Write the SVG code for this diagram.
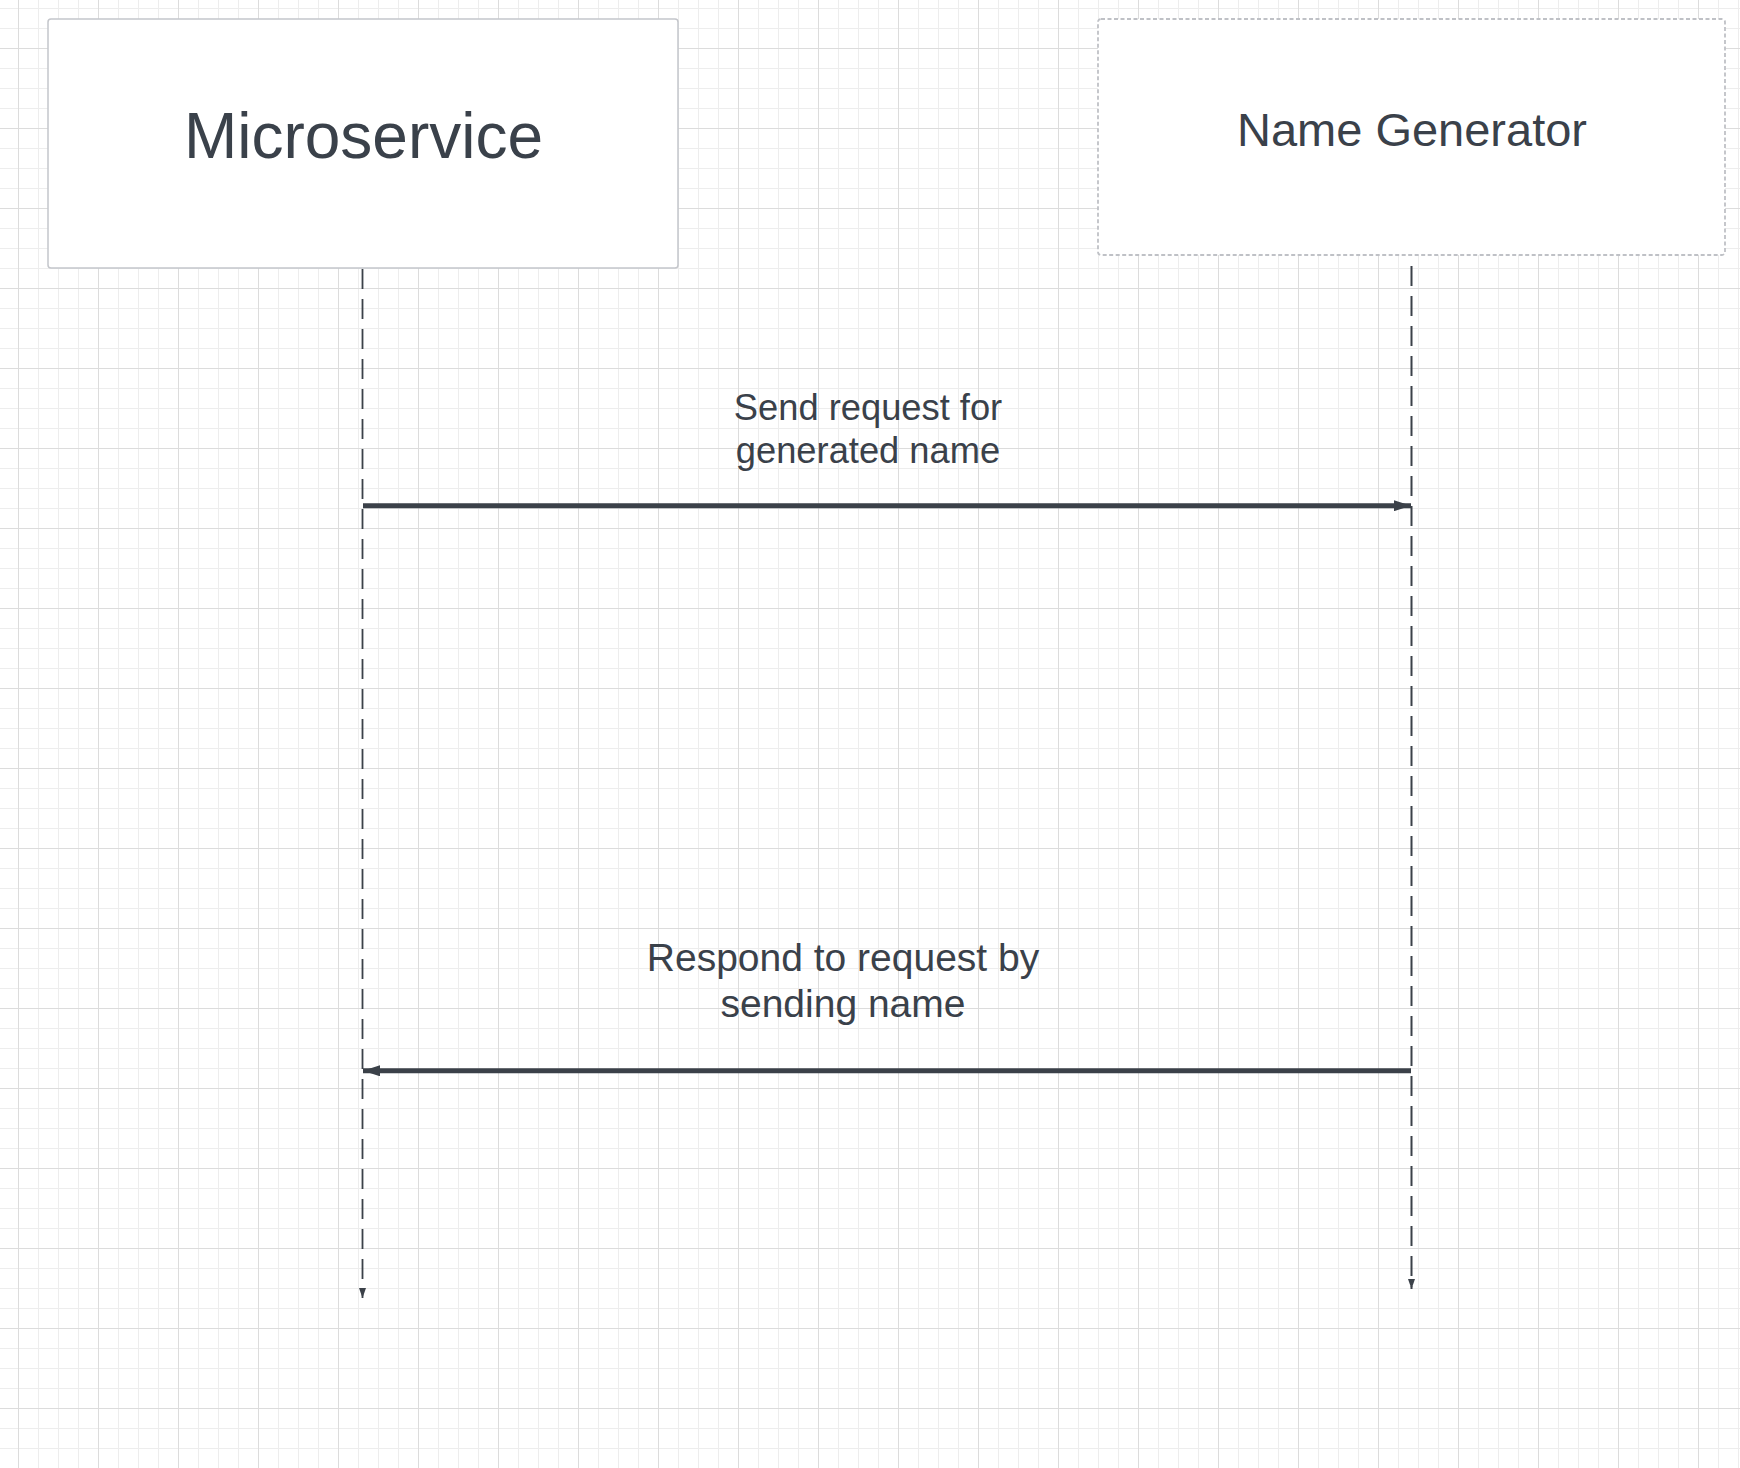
<svg xmlns="http://www.w3.org/2000/svg" width="1740" height="1468" viewBox="0 0 1740 1468">
  <style>
    .node-box { fill: #ffffff; stroke: #c4c6cb; stroke-width: 1.5; }
    .dashed { stroke: #bfc1c6; stroke-width: 1.8; stroke-dasharray: 4 2.5; }
    .label { font-family: "Liberation Sans", Arial, sans-serif; fill: #3a414a; text-anchor: middle; }
    .lifeline { fill: none; stroke: #3b4149; stroke-dasharray: 20 10; }
    .msg { fill: none; stroke: #3b4149; stroke-width: 5; }
  </style>
  <defs>
    <pattern id="grid" patternUnits="userSpaceOnUse" x="18" y="48" width="80" height="80">
      <rect x="20" y="0" width="1" height="80" fill="#ededed"/>
      <rect x="40" y="0" width="1" height="80" fill="#ededed"/>
      <rect x="60" y="0" width="1" height="80" fill="#ededed"/>
      <rect x="0" y="20" width="80" height="1" fill="#ededed"/>
      <rect x="0" y="40" width="80" height="1" fill="#ededed"/>
      <rect x="0" y="60" width="80" height="1" fill="#ededed"/>
      <rect x="0" y="0" width="1" height="80" fill="#dcdcdc"/>
      <rect x="0" y="0" width="80" height="1" fill="#dcdcdc"/>
    </pattern>
    <marker id="msgHead" viewBox="0 0 17 11" refX="17" refY="5.5" markerWidth="17" markerHeight="11" markerUnits="userSpaceOnUse" orient="auto">
      <path d="M0,0 L17,5.5 L0,11 Z" fill="#3b4149"/>
    </marker>
    <marker id="lifeHead" viewBox="0 0 10 7" refX="10" refY="3.5" markerWidth="10" markerHeight="7" markerUnits="userSpaceOnUse" orient="auto">
      <path d="M0,0 L10,3.5 L0,7 Z" fill="#3b4149"/>
    </marker>
  </defs>

  <rect x="0" y="0" width="1740" height="1468" fill="#ffffff"/>
  <rect x="0" y="0" width="1740" height="1468" fill="url(#grid)"/>

  <g id="connectors">
    <line class="lifeline" x1="362.5" y1="269" x2="362.5" y2="1298" stroke-width="1.8" marker-end="url(#lifeHead)"/>
    <line class="lifeline" x1="1411.5" y1="256" x2="1411.5" y2="1289" stroke-width="2" stroke-dashoffset="-10" marker-end="url(#lifeHead)"/>
    <line class="msg" x1="363" y1="505.7" x2="1411" y2="505.7" marker-end="url(#msgHead)"/>
    <line class="msg" x1="1411" y1="1070.8" x2="363" y2="1070.8" marker-end="url(#msgHead)"/>
    <text class="label" font-size="36.3"><tspan x="868" y="420">Send request for</tspan><tspan x="868" y="462.7">generated name</tspan></text>
    <text class="label" font-size="39"><tspan x="843" y="971">Respond to request by</tspan><tspan x="843" y="1016.7">sending name</tspan></text>
  </g>

  <g id="node-microservice">
    <rect class="node-box" x="48" y="19" width="630" height="249" rx="3"/>
    <text class="label" x="363.5" y="157.7" font-size="64">Microservice</text>
  </g>

  <g id="node-name-generator">
    <rect class="node-box dashed" x="1098" y="19" width="627" height="236" rx="3"/>
    <text class="label" x="1412" y="146" font-size="47">Name Generator</text>
  </g>
</svg>
